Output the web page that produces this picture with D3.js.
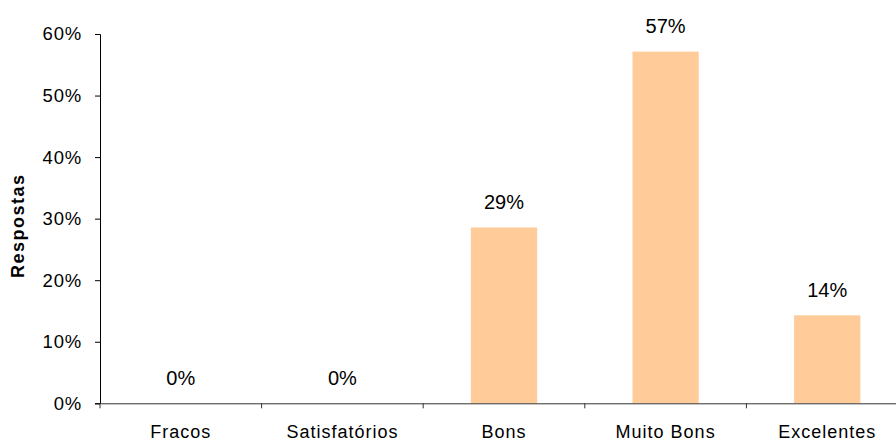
<!DOCTYPE html>
<html>
<head>
<meta charset="utf-8">
<script src="https://cdn.jsdelivr.net/npm/d3@7"></script>
<style>
  html, body { margin: 0; padding: 0; background: #fff; overflow: hidden; }
  text { font-family: "Liberation Sans", Arial, sans-serif; fill: #000; }
</style>
</head>
<body>
<svg id="chart" width="896" height="441"></svg>
<script>
const categories = ["Fracos", "Satisfatórios", "Bons", "Muito Bons", "Excelentes"];
const values = [0, 0, 0.2857, 0.5714, 0.1429];
const valueLabels = ["0%", "0%", "29%", "57%", "14%"];
const yTicks = [0, 0.1, 0.2, 0.3, 0.4, 0.5, 0.6];
const yTitle = "Respostas";

const svg = d3.select("#chart");
const margin = { left: 100, top: 34, bottom: 38 };
const plotW = 808;

const x = d3.scaleBand().domain(categories).range([margin.left, margin.left + plotW]).paddingInner(0.59).paddingOuter(0.295);
const y = d3.scaleLinear().domain([0, 0.6]).range([403.3, margin.top]);

// bars
svg.append("g").selectAll("rect").data(values).join("rect")
  .attr("x", (d, i) => x(categories[i]))
  .attr("y", d => y(d))
  .attr("width", x.bandwidth())
  .attr("height", d => y(0) - y(d))
  .attr("fill", "#FFCC99");

// y axis
const yAxis = svg.append("g").attr("transform", `translate(${margin.left},0)`)
  .call(d3.axisLeft(y).tickValues(yTicks).tickSize(5).tickPadding(13).tickFormat(d3.format(".0%")));
yAxis.select(".domain").attr("stroke", "#000");
yAxis.selectAll(".tick line").attr("stroke", "#000");
yAxis.selectAll("text").attr("font-size", 18.5).attr("letter-spacing", "0.8px").style("font-family", "'Liberation Sans', Arial, sans-serif").attr("fill", "#000");

// x axis
const xEdges = categories.map(c => x(c) - x.step() * x.paddingInner() / 2).concat([margin.left + plotW]);
const xAxis = svg.append("g").attr("transform", `translate(0,${y(0)})`)
  .call(d3.axisBottom(x).tickSize(0).tickPadding(22));
xAxis.select(".domain").attr("stroke", "#333");
xAxis.selectAll("text").attr("font-size", 18).attr("letter-spacing", "1px").style("font-family", "'Liberation Sans', Arial, sans-serif").attr("fill", "#000");
xAxis.selectAll(".edge").data(xEdges).join("line").attr("class", "edge")
  .attr("x1", d => d).attr("x2", d => d).attr("y1", 0).attr("y2", 5).attr("stroke", "#333");

// value labels
svg.append("g").selectAll("text").data(values).join("text")
  .attr("x", (d, i) => x(categories[i]) + x.bandwidth() / 2)
  .attr("y", d => y(d) - 18.5)
  .attr("text-anchor", "middle")
  .attr("font-size", 20)
  .text((d, i) => valueLabels[i]);

// y title
svg.append("text")
  .attr("transform", `translate(24,${(y(0) + y(0.6)) / 2 + 7}) rotate(-90)`)
  .attr("text-anchor", "middle")
  .attr("font-size", 18).attr("font-weight", "bold").attr("letter-spacing", "1.5px")
  .text(yTitle);
</script>
</body>
</html>
